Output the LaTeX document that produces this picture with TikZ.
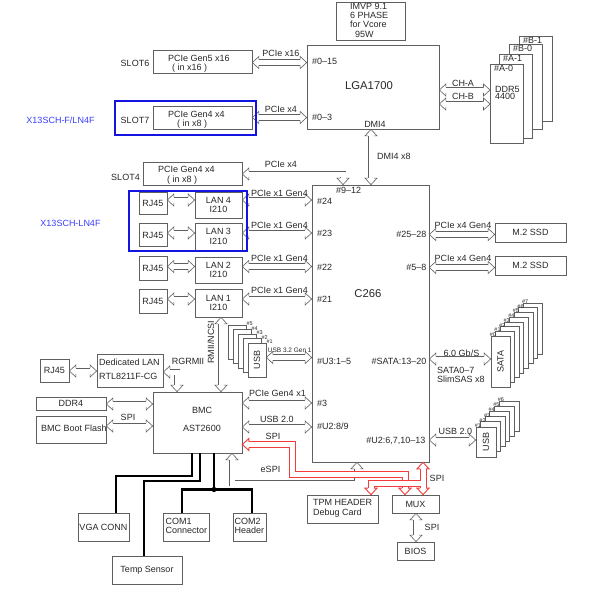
\documentclass[tikz,border=0pt]{standalone}
\usepackage{fontspec}
\setmainfont{Liberation Sans}
\usetikzlibrary{calc}
\definecolor{lc}{RGB}{95,95,95}
\definecolor{tc}{RGB}{40,40,40}
\definecolor{rc}{RGB}{245,60,60}
\definecolor{bf}{RGB}{20,20,225}
\definecolor{bt}{RGB}{60,60,255}
\tikzset{
 box/.style={draw=lc, line width=0.7pt, fill=white, inner sep=0pt, text=tc, font=\fontsize{9}{9.5}\selectfont},
 txt/.style={inner sep=0pt, text=tc, font=\fontsize{9}{9.5}\selectfont},
 tiny/.style={inner sep=0pt, text=tc, font=\fontsize{5.5}{6}\selectfont},
 hl/.style={draw=#1, line width=0.6pt, double=white, double distance=5pt},
 hl/.default=lc,
 rl/.style={draw=rc, line width=1pt, double=white, double distance=5pt},
 hd/.pic={\filldraw[draw=lc, fill=white, line width=0.6pt] (-6.5,2.8) -- (-6.5,6) -- (0,0) -- (-6.5,-6) -- (-6.5,-2.8);},
 rhd/.pic={\filldraw[draw=rc, fill=white, line width=0.9pt] (-6.5,3) -- (-6.5,6) -- (0,0) -- (-6.5,-6) -- (-6.5,-3);},
 bw/.style={line width=2.2pt, black},
 frm/.style={draw=bf, line width=1.8pt, inner sep=0pt},
}
\newcommand\hdarrow[4]{%
  \draw[hl, shorten <=6.5pt, shorten >=6.5pt] #1 -- #2;
  \pic[rotate=#3] at #1 {hd};
  \pic[rotate=#4] at #2 {hd};
}
\begin{document}
\begin{tikzpicture}[x=1pt,y=-1pt]
\path[use as bounding box, fill=white] (0,0) rectangle (590,590);

% ---------- boxes ----------
\node[box, minimum width=69, minimum height=38] (imvp) at (370.5,21) {};
\node[box, minimum width=132, minimum height=84] (lga) at (373,87) {};
\node[box, minimum width=33, minimum height=85, anchor=north west] (b1) at (519,36) {};
\node[box, minimum width=33, minimum height=85, anchor=north west] (b0) at (509,44) {};
\node[box, minimum width=33, minimum height=84, anchor=north west] (a1) at (499,54) {};
\node[box, minimum width=33, minimum height=79, anchor=north west] (a0) at (490,64) {};
\node[box, minimum width=99, minimum height=23] (slot6) at (202.5,61.5) {};
\node[box, minimum width=99, minimum height=23] (slot7) at (202.5,117.5) {};
\node[box, minimum width=99, minimum height=23] (slot4) at (192.5,173.5) {};
\node[box, minimum width=117, minimum height=277] (c266) at (370.5,323.5) {};

\node[box, minimum width=47, minimum height=26, align=center] (lan4) at (218.5,205) {LAN 4\\I210};
\node[box, minimum width=47, minimum height=27, align=center] (lan3) at (218.5,236.5) {LAN 3\\I210};
\node[box, minimum width=47, minimum height=26, align=center] (lan2) at (218.5,270) {LAN 2\\I210};
\node[box, minimum width=47, minimum height=28, align=center] (lan1) at (218.5,303) {LAN 1\\I210};
\node[box, minimum width=28, minimum height=22] (rj4) at (153,203) {RJ45};
\node[box, minimum width=28, minimum height=23.5] (rj3) at (153,235) {RJ45};
\node[box, minimum width=28, minimum height=23.3] (rj2) at (153,268.3) {RJ45};
\node[box, minimum width=28, minimum height=24] (rj1) at (153,301) {RJ45};

\node[box, minimum width=71, minimum height=19] (ssd1) at (530.5,232.5) {M.2 SSD};
\node[box, minimum width=71, minimum height=19] (ssd2) at (530.5,265.5) {M.2 SSD};

\foreach \i in {7,6,5,4,3,2,1,0} {\node[box, minimum width=19, minimum height=51] (sa\i) at ({500.5+4.6*\i},{361.5-4.7*\i}) {};}
\node[txt, rotate=90] at (sa0) {SATA};
\foreach \i in {5,4,3,2,1,0} {\node[box, minimum width=20, minimum height=30] (ur\i) at ({486+4.6*\i},{442-5.2*\i}) {};}
\node[txt, rotate=90] at (ur0) {USB};
\foreach \i in {4,3,2,1,0} {\node[box, minimum width=18, minimum height=34] (ul\i) at ({257-5*\i},{360-4.5*\i}) {};}
\node[txt, rotate=90] at (ul0) {USB};

\node[box, minimum width=89, minimum height=61] (bmc) at (197.5,422.5) {};
\node[box, minimum width=66, minimum height=33] (dlan) at (130,370.5) {};
\node[box, minimum width=29, minimum height=23] (rjd) at (54.5,370.5) {RJ45};
\node[box, minimum width=70, minimum height=13] (ddr4) at (71,403.5) {DDR4};
\node[box, minimum width=70, minimum height=27] (flash) at (71,429.5) {};

\node[box, minimum width=51, minimum height=28] (vga) at (103.5,527) {VGA CONN};
\node[box, minimum width=70, minimum height=28] (temp) at (147,570) {Temp Sensor};
\node[box, minimum width=46, minimum height=28] (com1) at (186,527) {};
\node[box, minimum width=33, minimum height=28] (com2) at (249.5,527) {};
\node[box, minimum width=71, minimum height=28] (tpm) at (342.5,509) {};
\node[box, minimum width=47, minimum height=18] (mux) at (415.5,504) {MUX};
\node[box, minimum width=37, minimum height=18] (bios) at (415.5,551) {BIOS};

% ---------- hollow connectors ----------
\hdarrow{(slot6.east |- 0,62.5)}{(lga.west |- 0,62.5)}{180}{0}
\hdarrow{(slot7.east |- 0,117.5)}{(lga.west |- 0,117.5)}{180}{0}
\hdarrow{(lga.east |- 0,90)}{(a0.west |- 0,90)}{180}{0}
\hdarrow{(lga.east |- 0,104)}{(a0.west |- 0,104)}{180}{0}
\hdarrow{(371,0 |- lga.south)}{(371,0 |- c266.north)}{90}{270}

\draw[hl, shorten <=6.5pt, shorten >=6.5pt] (slot4.east |- 0,174) -| (343,0 |- c266.north);
\pic[rotate=180] at (slot4.east |- 0,174) {hd};
\pic[rotate=270] at (343,0 |- c266.north) {hd};

\hdarrow{(rj4.east |- 0,200)}{(lan4.west |- 0,200)}{180}{0}
\hdarrow{(rj3.east |- 0,233)}{(lan3.west |- 0,233)}{180}{0}
\hdarrow{(rj2.east |- 0,266.5)}{(lan2.west |- 0,266.5)}{180}{0}
\hdarrow{(rj1.east |- 0,299)}{(lan1.west |- 0,299)}{180}{0}
\hdarrow{(lan4.east |- 0,200)}{(c266.west |- 0,200)}{180}{0}
\hdarrow{(lan3.east |- 0,233)}{(c266.west |- 0,233)}{180}{0}
\hdarrow{(lan2.east |- 0,266.5)}{(c266.west |- 0,266.5)}{180}{0}
\hdarrow{(lan1.east |- 0,299)}{(c266.west |- 0,299)}{180}{0}

\hdarrow{(c266.east |- 0,234.5)}{(ssd1.west |- 0,234.5)}{180}{0}
\hdarrow{(c266.east |- 0,267.5)}{(ssd2.west |- 0,267.5)}{180}{0}
\hdarrow{(c266.east |- 0,359)}{(sa0.west |- 0,359)}{180}{0}
\hdarrow{(c266.east |- 0,440)}{(ur0.west |- 0,440)}{180}{0}
\hdarrow{(ul0.east |- 0,357.5)}{(c266.west |- 0,357.5)}{180}{0}

\hdarrow{(221,0 |- lan1.south)}{(221,0 |- bmc.north)}{90}{270}
\hdarrow{(rjd.east |- 0,371)}{(dlan.west |- 0,371)}{180}{0}
\draw[hl, shorten <=6.5pt, shorten >=6.5pt] (dlan.east |- 0,372) -| (177,0 |- bmc.north);
\pic[rotate=180] at (dlan.east |- 0,372) {hd};
\pic[rotate=270] at (177,0 |- bmc.north) {hd};
\hdarrow{(ddr4.east |- 0,404)}{(bmc.west |- 0,404)}{180}{0}
\hdarrow{(flash.east |- 0,426)}{(bmc.west |- 0,426)}{180}{0}
\hdarrow{(bmc.east |- 0,403)}{(c266.west |- 0,403)}{180}{0}
\hdarrow{(bmc.east |- 0,427)}{(c266.west |- 0,427)}{180}{0}

% eSPI
\draw[hl, shorten <=6.5pt, shorten >=6.5pt] (232,0 |- bmc.south) -- (232,483) -- (357,483) -- (357,0 |- c266.south);
\pic[rotate=90] at (232,0 |- bmc.south) {hd};
\pic[rotate=90] at (357,0 |- c266.south) {hd};

\hdarrow{(416,0 |- mux.south)}{(416,0 |- bios.north)}{90}{270}

% red SPI
\draw[rl, shorten <=6.5pt, shorten >=6.5pt] (bmc.east |- 0,444.5) -- (292.5,444.5) -- (292.5,474) -- (405,474) -- (405,0 |- mux.north);
\draw[rc, line width=7pt, shorten <=6.5pt, shorten >=6.5pt] (423,0 |- c266.south) -- (423,0 |- mux.north);
\draw[rc, line width=7pt, shorten >=6.5pt] (423,483) -- (371,483) -- (371,0 |- tpm.north);
\draw[white, line width=5pt, shorten <=6.5pt, shorten >=6.5pt] (423,0 |- c266.south) -- (423,0 |- mux.north);
\draw[white, line width=5pt, shorten >=6.5pt] (423,483) -- (371,483) -- (371,0 |- tpm.north);
\pic[rotate=180] at (bmc.east |- 0,444.5) {rhd};
\pic[rotate=270] at (405,0 |- mux.north) {rhd};
\pic[rotate=90] at (423,0 |- c266.south) {rhd};
\pic[rotate=270] at (423,0 |- mux.north) {rhd};
\pic[rotate=270] at (371,0 |- tpm.north) {rhd};

% black lines
\draw[bw] (192,0 |- bmc.south) |- (116,476) -- (116,0 |- vga.north);
\draw[bw] (200,0 |- bmc.south) |- (144,481) -- (144,0 |- temp.north);
\draw[bw, line width=2.8pt] (214,0 |- bmc.south) -- (214,489.5);
\draw[bw] (182,0 |- com1.north) |- (252,489.5) -- (252,0 |- com2.north);
\fill[black] (214,489.5) circle (2.6pt);

% ---------- texts ----------
\node[txt, anchor=north west, align=left, font=\fontsize{9}{9.2}\selectfont] at (350,3) {IMVP 9.1\\6 PHASE\\for Vcore\\\hspace*{5pt}95W};
\node[txt, font=\fontsize{11.3}{12}\selectfont] at (369,86) {LGA1700};
\node[txt, anchor=west] at (312,61) {\#0–15};
\node[txt, anchor=west] at (312,117) {\#0–3};
\node[txt] at (375,124) {DMI4};
\node[txt] at (394,156) {DMI4 x8};
\node[txt] at (463,83) {CH-A};
\node[txt] at (463,96.7) {CH-B};
\node[txt, anchor=north west] at ($(b1.north west)+(4,1.5)$) {\#B-1};
\node[txt, anchor=north west] at ($(b0.north west)+(4,1.5)$) {\#B-0};
\node[txt, anchor=north west] at ($(a1.north west)+(4,1.5)$) {\#A-1};
\node[txt, anchor=north west] at ($(a0.north west)+(4,1.5)$) {\#A-0};
\node[txt, anchor=north west, align=left, font=\fontsize{9}{7.5}\selectfont] at (495,86) {DDR5\\4400};

\node[txt] at (135,63) {SLOT6};
\node[txt, anchor=west, align=left] at (168,64) {PCIe Gen5 x16\\\hspace*{4pt}( in x16 )};
\node[txt] at (281,53.5) {PCIe x16};
\node[txt] at (135,120) {SLOT7};
\node[txt, anchor=west, align=left] at (168,120) {PCIe Gen4 x4\\\hspace*{9pt}( in x8 )};
\node[txt] at (281,109.3) {PCIe x4};
\node[txt, text=bt] at (60.5,120) {X13SCH-F/LN4F};

\node[txt] at (125.5,177) {SLOT4};
\node[txt, anchor=west, align=left] at (158,175.5) {PCIe Gen4 x4\\\hspace*{9pt}( in x8 )};
\node[txt] at (281,164) {PCIe x4};
\node[txt, text=bt] at (70.5,223) {X13SCH-LN4F};
\node[txt] at (279.5,193) {PCIe x1 Gen4};
\node[txt] at (279.5,225) {PCIe x1 Gen4};
\node[txt] at (279.5,258) {PCIe x1 Gen4};
\node[txt] at (279.5,290) {PCIe x1 Gen4};

\node[txt, font=\fontsize{11.3}{12}\selectfont] at (368,294) {C266};
\node[txt, anchor=west] at (336,190) {\#9–12};
\node[txt, anchor=west] at (317,201) {\#24};
\node[txt, anchor=west] at (317,233) {\#23};
\node[txt, anchor=west] at (317,267) {\#22};
\node[txt, anchor=west] at (317,299) {\#21};
\node[txt, anchor=west] at (317,361) {\#U3:1–5};
\node[txt, anchor=west] at (317,403) {\#3};
\node[txt, anchor=west] at (317,426) {\#U2:8/9};
\node[txt, anchor=east] at (426.5,234) {\#25–28};
\node[txt, anchor=east] at (426.5,267) {\#5–8};
\node[txt, anchor=east] at (426.5,361) {\#SATA:13–20};
\node[txt, anchor=east] at (425.5,441) {\#U2:6,7,10–13};

\node[txt] at (463,225) {PCIe x4 Gen4};
\node[txt] at (463,258) {PCIe x4 Gen4};
\node[txt] at (461.5,353) {6.0 Gb/S};
\node[txt, anchor=north west, align=left] at (437,367) {SATA0–7\\SlimSAS x8};
\node[txt] at (455.5,431) {USB 2.0};
\foreach \i in {0,...,7} {\node[tiny, anchor=south west] at ($(sa\i.north west)+(-1,1)$) {\#\i};}
\foreach \i [count=\j] in {0,...,5} {\node[tiny, anchor=south west] at ($(ur\i.north west)+(-1,1)$) {\#\j};}
\foreach \i [count=\j] in {0,...,4} {\node[tiny, anchor=south west] at ($(ul\i.north east)+(0,1.5)$) {\#\j};}
\node[txt, font=\fontsize{6.5}{7}\selectfont] at (289.7,350) {USB 3.2 Gen 1};

\node[txt, rotate=90] at (211,342) {RMII/NCSI};
\node[txt, anchor=west, align=left, font=\fontsize{9}{13.7}\selectfont] at (99,369) {Dedicated LAN\\RTL8211F-CG};
\node[txt] at (188,361) {RGRMII};
\node[txt, anchor=west] at (41,428) {BMC Boot Flash};
\node[txt] at (128,417) {SPI};
\node[txt] at (202,410) {BMC};
\node[txt] at (202,428) {AST2600};
\node[txt] at (277.5,393) {PCIe Gen4 x1};
\node[txt] at (277,419) {USB 2.0};
\node[txt] at (273,436) {SPI};
\node[txt] at (270.5,469) {eSPI};
\node[txt] at (437,478) {SPI};
\node[txt] at (432,527) {SPI};

\node[txt, anchor=west, align=left, font=\fontsize{9}{8.5}\selectfont] at (165.5,526) {COM1\\Connector};
\node[txt, anchor=west, align=left, font=\fontsize{9}{8.5}\selectfont] at (234.5,526) {COM2\\Header};
\node[txt, anchor=west, align=left, font=\fontsize{9}{9.7}\selectfont] at (313,508) {TPM HEADER\\Debug Card};

% blue frames
\node[frm, minimum width=141, minimum height=34] (fr1) at (185.5,118) {};
\node[frm, minimum width=118, minimum height=60] (fr2) at (188,221) {};
\end{tikzpicture}
\end{document}
